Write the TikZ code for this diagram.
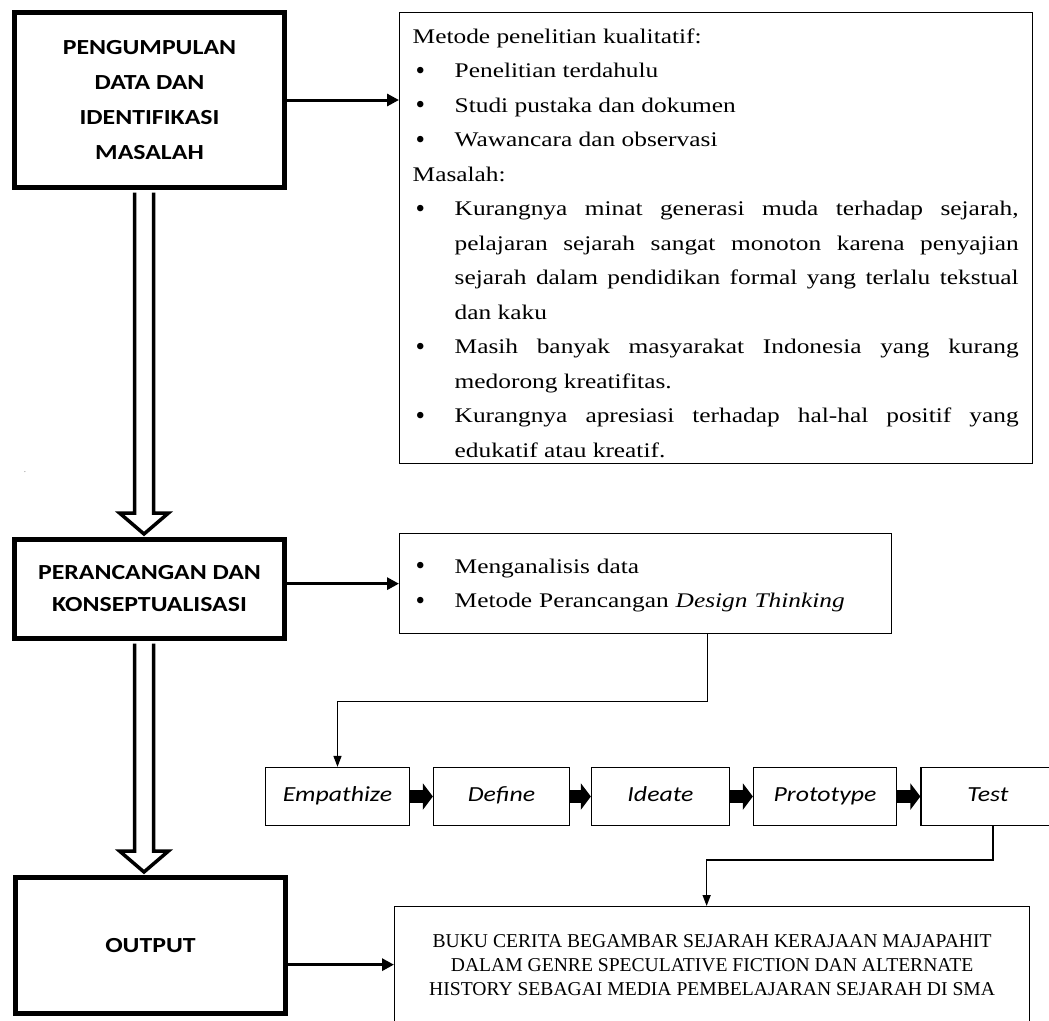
\documentclass[tikz,border=0pt]{standalone}
\usepackage{fontspec}
\setmainfont{Liberation Serif}
\newfontfamily\wserif{Liberation Serif}[FakeStretch=1.22]
\newfontfamily\wsans{Carlito}[FakeStretch=1.2]
\usetikzlibrary{arrows.meta,calc}
\newcommand\bmark{\makebox[42pt][l]{\hspace{3pt}{\rmfamily\fontsize{27}{27}\selectfont\raisebox{-1.5pt}{•}}}}
\newcommand\bitem{\par\noindent\hangindent=42pt\hangafter=1\bmark}
\newcommand\bfirst{\noindent\hangindent=42pt\hangafter=1\bmark}
\begin{document}
\begin{tikzpicture}[x=1pt,y=-1pt,
  bigbox/.style={draw, line width=5pt, align=center, inner sep=0pt,
    font=\wsans\bfseries\fontsize{21.5}{35}\selectfont, minimum width=270pt},
  txtbox/.style={draw, line width=1.3pt, inner sep=0pt},
  listtext/.style={anchor=north west, inner sep=0pt,
    font=\wserif\fontsize{20.8}{34.5}\selectfont},
  stepbox/.style={draw, line width=1.3pt, minimum height=58pt, inner sep=0pt,
    text height=15pt, text depth=5pt,
    font=\wsans\itshape\fontsize{21.5}{26}\selectfont},
  thickarrow/.style={line width=3pt, -{Triangle[length=12pt 0,width=12pt 0]}},
  elbow/.style={line width=1.4pt, -{Triangle[length=11pt 0,width=8pt 0]}},
  hollow/.style={line width=3.5pt, fill=white, line join=miter},
  blackarrow/.style={line width=13pt, -{Triangle[length=10pt 0,width=26pt 0]}},
]
\useasboundingbox (0,0) rectangle (1049,1020);
\clip (0,0) rectangle (1049,1020);

% left column boxes
\node[bigbox, minimum height=175pt] (b1) at (149.5,100)
  {PENGUMPULAN\\DATA DAN\\IDENTIFIKASI\\MASALAH};
\node[bigbox, minimum height=99pt, font=\wsans\bfseries\fontsize{21.5}{32}\selectfont] (b2) at (149.5,589)
  {PERANCANGAN DAN\\KONSEPTUALISASI};
\node[bigbox, minimum height=136pt] (b3) at (150.5,945.5) {OUTPUT};

% text box A
\node[txtbox, anchor=north west, minimum width=633pt, minimum height=451pt] (ta) at (399,12) {};
\node[listtext, text width=606pt, align=justify] (tatext) at (412.5,28.5) {%
\noindent Metode penelitian kualitatif:
\bitem Penelitian terdahulu
\bitem Studi pustaka dan dokumen
\bitem Wawancara dan observasi
\par\noindent Masalah:
\bitem Kurangnya minat generasi muda terhadap sejarah,\linebreak pelajaran sejarah sangat monoton karena penyajian\linebreak sejarah dalam pendidikan formal yang terlalu tekstual\linebreak dan kaku
\bitem Masih banyak masyarakat Indonesia yang kurang\linebreak medorong kreatifitas.
\bitem Kurangnya apresiasi terhadap hal-hal positif yang\linebreak edukatif atau kreatif.\par};

% text box B
\node[txtbox, anchor=north west, minimum width=492pt, minimum height=100pt] (tb) at (399,533) {};
\node[listtext, text width=465pt, align=left] (tbtext) at (412.5,558.5) {%
\bfirst Menganalisis data
\bitem Metode Perancangan \textit{Design Thinking}\par};

% design thinking steps
\node[stepbox, minimum width=144pt] (s1) at (337.5,796.5) {Empathize};
\node[stepbox, minimum width=136pt] (s2) at (501.5,796.5) {Define};
\node[stepbox, minimum width=138pt] (s3) at (660.5,796.5) {Ideate};
\node[stepbox, minimum width=143pt] (s4) at (825,796.5) {Prototype};
\node[stepbox, minimum width=134pt] (s5) at (988,796.5) {Test};

% final output box
\node[txtbox, anchor=north west, minimum width=635pt, minimum height=116pt,
  align=center, font=\fontsize{19.6}{24}\selectfont] (fin) at (394,906)
  {BUKU CERITA BEGAMBAR SEJARAH KERAJAAN MAJAPAHIT\\DALAM GENRE SPECULATIVE FICTION DAN ALTERNATE\\HISTORY SEBAGAI MEDIA PEMBELAJARAN SEJARAH DI SMA};

% stray mark
\node[font=\fontsize{9}{9}\selectfont, text=gray, inner sep=0pt] (mk) at (25,472) {.};

% connectors
\draw[thickarrow] (b1.east) -- (b1.east -| ta.west);
\draw[thickarrow] (b2.east |- tb.west) -- (tb.west);
\draw[thickarrow] (b3.east |- fin.west) -- (fin.west);

\draw[elbow] ([xshift=62pt]tb.south) -- ++(0,67) -| (s1.north);
\draw[elbow] ([xshift=5pt]s5.south) -- ++(0,34) -| ([xshift=-5.5pt]fin.north);

\draw[blackarrow] (s1.east) -- (s2.west);
\draw[blackarrow] (s2.east) -- (s3.west);
\draw[blackarrow] (s3.east) -- (s4.west);
\draw[blackarrow] (s4.east) -- (s5.west);

% hollow block arrows
\draw[hollow] let \p1=(b1.south), \p2=(b2.north) in
  (\x1-15pt,\y1-2.5pt) -- (\x1-15pt,\y2+24pt) -- (\x1-30pt,\y2+24pt) -- (\x1-5.5pt,\y2+3pt)
  -- (\x1+19pt,\y2+24pt) -- (\x1+4pt,\y2+24pt) -- (\x1+4pt,\y1-2.5pt);
\draw[hollow] let \p1=(b2.south), \p2=(b3.north) in
  (\x1-15pt,\y1-2.5pt) -- (\x1-15pt,\y2+24pt) -- (\x1-30pt,\y2+24pt) -- (\x1-5.5pt,\y2+3pt)
  -- (\x1+19pt,\y2+24pt) -- (\x1+4pt,\y2+24pt) -- (\x1+4pt,\y1-2.5pt);
\end{tikzpicture}
\end{document}
